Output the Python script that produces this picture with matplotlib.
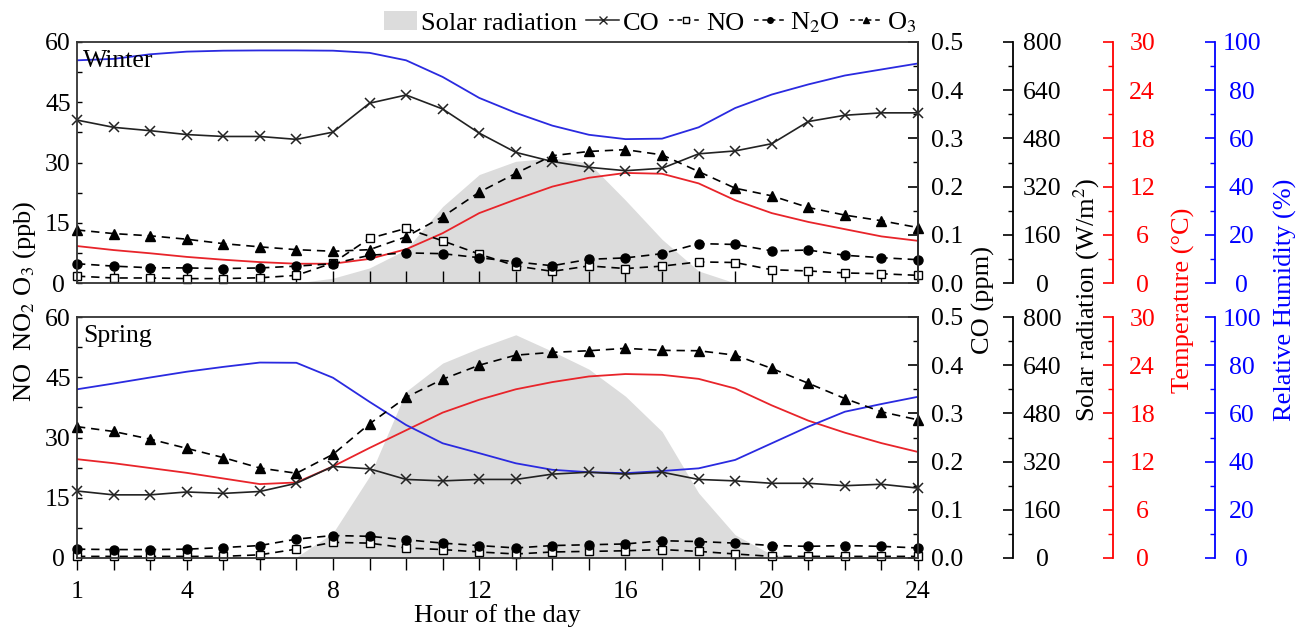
import matplotlib
matplotlib.use("Agg")
import matplotlib.pyplot as plt
from matplotlib.ticker import MultipleLocator, FixedLocator, FormatStrFormatter
from matplotlib.patches import Patch
from matplotlib.lines import Line2D
import numpy as np

plt.rcParams['font.family'] = ['Liberation Serif', 'DejaVu Serif']
plt.rcParams['mathtext.fontset'] = 'stix'
plt.rcParams['font.size'] = 18.5

# hour of the day
hours = np.arange(1, 25)

# winter
w_co = [0.338, 0.323, 0.316, 0.308, 0.304, 0.304, 0.298, 0.313, 0.373, 0.390, 0.361, 0.311,
        0.271, 0.252, 0.240, 0.233, 0.238, 0.268, 0.274, 0.289, 0.335, 0.348, 0.353, 0.353]
w_no = [1.7, 1.25, 1.25, 1.1, 1.1, 1.3, 1.9, 5.0, 11.1, 13.6, 10.5, 7.2,
        4.25, 2.9, 4.25, 3.6, 4.2, 5.25, 5.1, 3.3, 3.0, 2.5, 2.3, 1.9]
w_n2o = [4.8, 4.2, 3.8, 3.75, 3.6, 3.75, 4.2, 4.8, 6.9, 7.5, 7.3, 6.3,
         5.25, 4.3, 5.9, 6.25, 7.3, 9.8, 9.6, 8.0, 8.2, 6.9, 6.3, 5.8]
w_o3 = [13.2, 12.3, 11.75, 10.9, 9.8, 9.0, 8.3, 7.9, 8.3, 11.5, 16.5, 22.6,
        27.3, 31.7, 32.75, 33.2, 31.9, 27.75, 23.6, 21.7, 18.8, 16.9, 15.5, 13.8]
w_temp = [4.6, 4.1, 3.7, 3.25, 2.9, 2.6, 2.4, 2.4, 3.0, 4.2, 6.2, 8.7,
          10.4, 12.0, 13.1, 13.7, 13.6, 12.4, 10.3, 8.7, 7.6, 6.7, 5.8, 5.25]
w_rh = [92.4, 93.0, 94.9, 96.0, 96.4, 96.5, 96.5, 96.4, 95.5, 92.4, 85.5, 76.8,
        70.6, 65.3, 61.5, 59.7, 59.9, 64.6, 72.6, 78.2, 82.4, 86.1, 88.6, 91.1]
w_solar = [0, 0, 0, 0, 0, 0, 0, 16, 50, 111, 254, 360,
           404, 415, 398, 275, 145, 40, 0, 0, 0, 0, 0, 0]

# spring
s_co = [0.139, 0.131, 0.131, 0.137, 0.134, 0.138, 0.155, 0.190, 0.185, 0.163, 0.160, 0.163,
        0.163, 0.174, 0.178, 0.174, 0.178, 0.163, 0.160, 0.155, 0.155, 0.150, 0.153, 0.145]
s_no = [0.4, 0.4, 0.4, 0.4, 0.4, 0.8, 2.2, 3.9, 3.7, 2.5, 2.1, 1.5,
        1.0, 1.5, 1.65, 1.8, 2.1, 1.65, 1.0, 0.4, 0.4, 0.4, 0.4, 0.4]
s_n2o = [2.2, 2.1, 2.1, 2.2, 2.6, 3.1, 4.7, 5.6, 5.4, 4.55, 3.7, 3.1,
         2.5, 3.1, 3.3, 3.5, 4.3, 4.1, 3.7, 3.1, 2.9, 3.1, 2.9, 2.5]
s_o3 = [32.7, 31.5, 29.6, 27.3, 25.0, 22.4, 21.1, 25.8, 33.4, 40.0, 44.5, 48.0,
        50.5, 51.2, 51.6, 52.2, 51.7, 51.6, 50.5, 47.2, 43.5, 39.7, 36.4, 34.4]
s_temp = [12.3, 11.8, 11.2, 10.6, 9.9, 9.2, 9.4, 11.4, 13.7, 15.9, 18.1, 19.7,
          21.0, 21.9, 22.6, 22.9, 22.8, 22.3, 21.1, 19.0, 17.1, 15.6, 14.3, 13.2]
s_rh = [70.0, 72.4, 74.9, 77.3, 79.3, 81.1, 81.0, 74.8, 64.8, 55.2, 47.6, 43.5,
        39.3, 36.6, 35.6, 35.2, 36.1, 37.2, 40.7, 47.6, 54.5, 60.7, 63.9, 66.9]
s_solar = [0, 0, 0, 0, 0, 0, 3, 83, 271, 553, 647, 697,
           741, 686, 627, 537, 420, 216, 77, 11, 0, 0, 0, 0]

W, H = 1301, 630
fig = plt.figure(figsize=(W / 100, H / 100), dpi=100)

left, right = 77 / W, 918 / W
ax_w = fig.add_axes([left, 1 - 283 / H, right - left, 241 / H])
ax_s = fig.add_axes([left, 1 - 558 / H, right - left, 241 / H], sharex=ax_w)

dash = (0, (5, 3.5))
centred = []  # axes whose y tick labels are centred


def extra_axis(ax, pos, ymax, major, minor, color, z, pad):
    t = ax.twinx()
    t.set_zorder(z)
    t.patch.set_visible(False)
    for s in ['left', 'top', 'bottom']:
        t.spines[s].set_visible(False)
    t.spines['right'].set_position(('axes', pos))
    t.spines['right'].set_color(color)
    t.spines['right'].set_linewidth(1.3)
    t.set_ylim(0, ymax)
    t.yaxis.set_major_locator(MultipleLocator(major))
    t.yaxis.set_minor_locator(MultipleLocator(minor))
    t.tick_params(axis='y', which='major', direction='in', length=7.2, width=1.2,
                  colors=color, labelsize=18.5, pad=pad)
    t.tick_params(axis='y', which='minor', direction='in', length=3.6, width=1.0, color=color)
    centred.append(t)
    return t


def panel(ax, name, co, no, n2o, o3, temp, rh, solar):
    ax.set_zorder(5)
    ax.patch.set_visible(False)

    a_sol = extra_axis(ax, 1.113, 800, 160, 80, 'black', 1, 20.9)
    a_tmp = extra_axis(ax, 1.232, 30, 6, 3, 'red', 2, 20.9)
    a_rh = extra_axis(ax, 1.353, 100, 20, 10, 'blue', 3, 19.4)
    a_co = extra_axis(ax, 1.0, 0.5, 0.1, 0.05, 'black', 4, 21.2)
    a_co.yaxis.set_major_formatter(FormatStrFormatter('%.1f'))

    a_sol.fill_between(hours, 0, solar, color='#dcdcdc', lw=0)
    a_tmp.plot(hours, temp, color='#e8242a', lw=1.3)
    a_rh.plot(hours, rh, color='#2a2ae0', lw=1.3)
    a_co.plot(hours, co, color='#222222', lw=1.2, marker='x', ms=7.5, mew=1.1, clip_on=False)

    ax.plot(hours, no, color='black', lw=1.2, ls=dash, marker='s', ms=6,
            mfc='white', mew=1.0, clip_on=False)
    ax.plot(hours, n2o, color='black', lw=1.2, ls=dash, marker='o', ms=6.5, clip_on=False)
    ax.plot(hours, o3, color='black', lw=1.2, ls=dash, marker='^', ms=7.5, clip_on=False)

    ax.set_xlim(1, 24)
    ax.set_ylim(0, 60)
    ax.yaxis.set_major_locator(MultipleLocator(15))
    ax.yaxis.set_minor_locator(MultipleLocator(7.5))
    ax.xaxis.set_major_locator(FixedLocator([1, 4, 8, 12, 16, 20, 24]))
    ax.xaxis.set_minor_locator(MultipleLocator(1))
    ax.tick_params(axis='y', which='both', direction='in', length=3.6, width=1.0,
                   labelsize=18.5, pad=13.7)
    ax.tick_params(axis='x', which='both', length=8.6, width=1.0,
                   labelsize=18.5, top=False)
    for s in ax.spines.values():
        s.set_linewidth(1.3)
        s.set_color('#333333')
    ax.text(0.007, 0.965, name, transform=ax.transAxes, ha='left', va='top', fontsize=18.5)
    centred.append(ax)


panel(ax_w, 'Winter', w_co, w_no, w_n2o, w_o3, w_temp, w_rh, w_solar)
panel(ax_s, 'Spring', s_co, s_no, s_n2o, s_o3, s_temp, s_rh, s_solar)
ax_w.tick_params(axis='x', which='both', direction='in', labelbottom=False)
ax_s.tick_params(axis='x', which='both', direction='out', pad=8)

ax_s.set_xlabel('Hour of the day', fontsize=19, labelpad=1)

fig.text(25 / W, 1 - 301 / H, 'NO  NO$_2$ O$_3$ (ppb)', rotation=90, ha='center', va='center', fontsize=19)
fig.text(983 / W, 1 - 300 / H, 'CO (ppm)', rotation=90, ha='center', va='center', fontsize=19)
fig.text(1087 / W, 1 - 300 / H, 'Solar radiation (W/m$^2$)', rotation=90, ha='center', va='center', fontsize=19)
fig.text(1183 / W, 1 - 300 / H, 'Temperature (°C)', rotation=90, ha='center', va='center',
         fontsize=19, color='red')
fig.text(1285 / W, 1 - 300 / H, 'Relative Humidity (%)', rotation=90, ha='center', va='center',
         fontsize=19, color='blue')

handles = [
    Patch(facecolor='#dcdcdc', edgecolor='none'),
    Line2D([], [], color='#222222', lw=1.1, marker='x', ms=6),
    Line2D([], [], color='black', lw=1.1, ls=(0, (3, 2.5)), marker='s', ms=4, mfc='white'),
    Line2D([], [], color='black', lw=1.1, ls=(0, (3, 2.5)), marker='o', ms=4),
    Line2D([], [], color='black', lw=1.1, ls=(0, (3, 2.5)), marker='^', ms=5),
]
labels = ['Solar radiation', 'CO', 'NO', 'N$_2$O', 'O$_3$']
fig.legend(handles, labels, loc='center right', bbox_to_anchor=(916 / W, 1 - 23 / H), ncol=5,
           frameon=False, fontsize=19, handlelength=1.25, handletextpad=0.15,
           columnspacing=0.35, borderpad=0, borderaxespad=0)

# centre the y tick labels on their offset, as in the original figure
fig.canvas.draw()
for a in centred:
    for lbl in a.get_yticklabels():
        lbl.set_horizontalalignment('center')

fig.savefig('out.png', dpi=100)
